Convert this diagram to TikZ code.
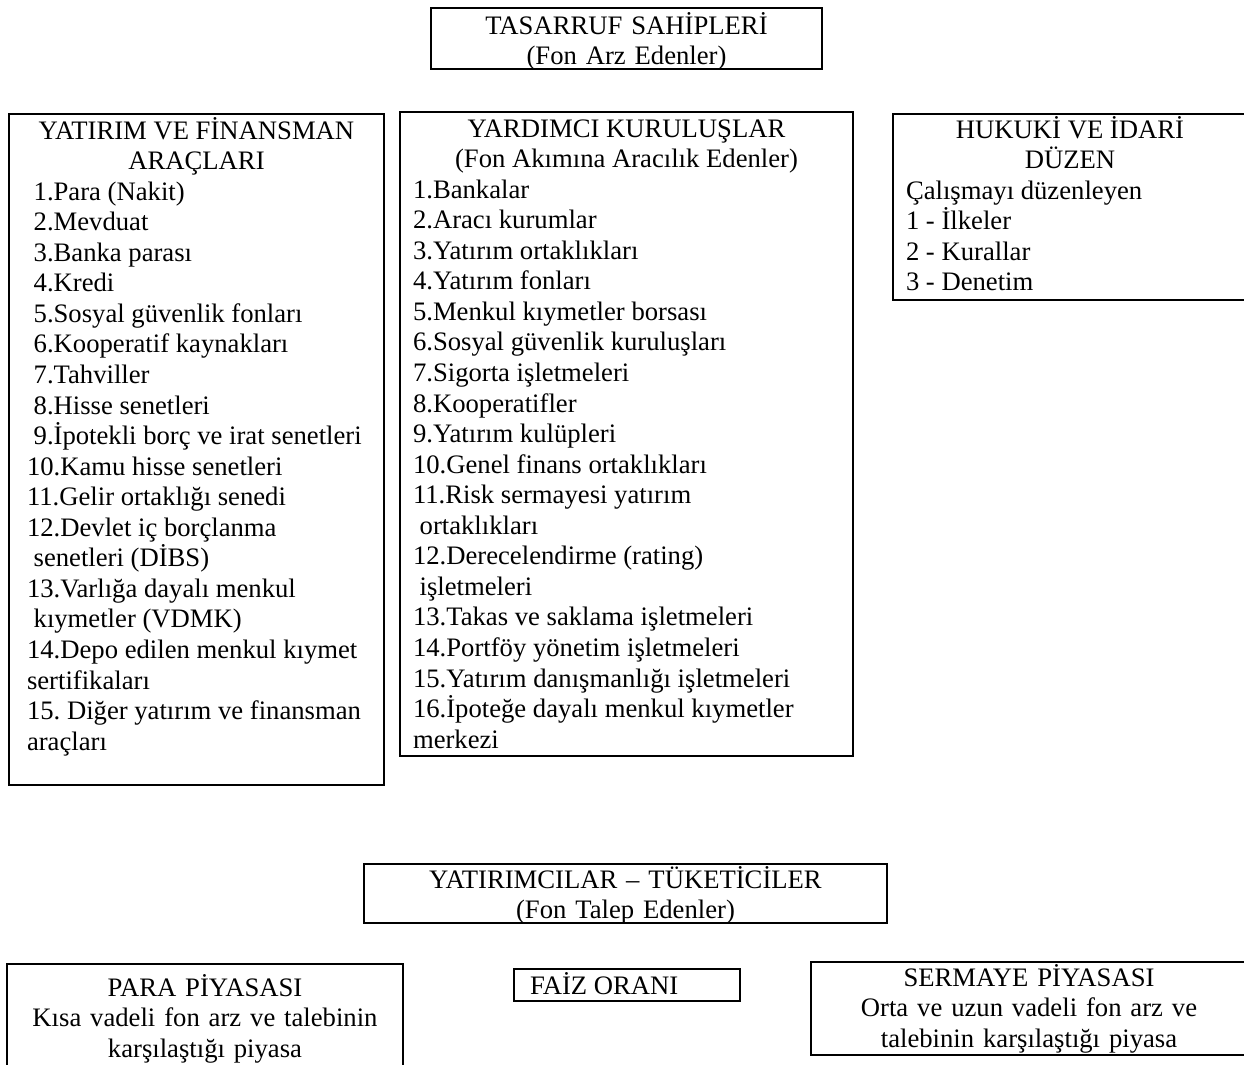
\documentclass[tikz,border=0pt]{standalone}
\usepackage{fontspec}
\setmainfont{Liberation Serif}
\usepackage{tikz}

\setlength{\parindent}{0pt}
\setlength{\parskip}{0pt}
\frenchspacing
\newcommand{\boxfont}{\fontsize{12}{13.75}\selectfont}
\tikzset{
    box/.style = {draw, line width=0.9pt, anchor=north west, inner ysep=0pt, inner xsep=5.85pt, font=\boxfont},
    listbox/.style = {box, align=flush left},
    titlebox/.style = {box, align=center}
}

\begin{document}
\begin{tikzpicture}[x=0.45pt, y=-0.45pt]
    \useasboundingbox (0,0) rectangle (1244,1064);
    \clip (0,0) rectangle (1244,1064);

    \node[titlebox, text width=164.25pt, text height=11.7pt, text depth=15.75pt] (sahipler) at (430,7)
        {TASARRUF SAHİPLERİ\\(Fon Arz Edenler)};

    \node[listbox, inner xsep=8.1pt, text width=152.55pt, text height=11.25pt, text depth=290.7pt] (araclar) at (8,113)
        {{\centering YATIRIM VE FİNANSMAN\\ARAÇLARI\par}
        ~1.Para (Nakit)\\
        ~2.Mevduat\\
        ~3.Banka parası\\
        ~4.Kredi\\
        ~5.Sosyal güvenlik fonları\\
        ~6.Kooperatif kaynakları\\
        ~7.Tahviller\\
        ~8.Hisse senetleri\\
        ~9.İpotekli borç ve irat senetleri\\
        10.Kamu hisse senetleri\\
        11.Gelir ortaklığı senedi\\
        12.Devlet iç borçlanma\\
        ~senetleri (DİBS)\\
        13.Varlığa dayalı menkul\\
        ~kıymetler (VDMK)\\
        14.Depo edilen menkul kıymet\\
        sertifikaları\\
        15. Diğer yatırım ve finansman\\
        araçları};

    \node[listbox, text width=192.15pt, text height=11.25pt, text depth=278.55pt] (kuruluslar) at (399,111)
        {{\centering YARDIMCI KURULUŞLAR\\(Fon Akımına Aracılık Edenler)\par}
        1.Bankalar\\
        2.Aracı kurumlar\\
        3.Yatırım ortaklıkları\\
        4.Yatırım fonları\\
        5.Menkul kıymetler borsası\\
        6.Sosyal güvenlik kuruluşları\\
        7.Sigorta işletmeleri\\
        8.Kooperatifler\\
        9.Yatırım kulüpleri\\
        10.Genel finans ortaklıkları\\
        11.Risk sermayesi yatırım\\
        ~ortaklıkları\\
        12.Derecelendirme (rating)\\
        ~işletmeleri\\
        13.Takas ve saklama işletmeleri\\
        14.Portföy yönetim işletmeleri\\
        15.Yatırım danışmanlığı işletmeleri\\
        16.İpoteğe dayalı menkul kıymetler\\
        merkezi};

    \node[listbox, text width=147.6pt, text height=10.8pt, text depth=72.9pt] (duzen) at (892,113)
        {{\centering HUKUKİ VE İDARİ\\DÜZEN\par}
        Çalışmayı düzenleyen\\
        1 - İlkeler\\
        2 - Kurallar\\
        3 - Denetim};

    \node[titlebox, text width=223.65pt, text height=10.8pt, text depth=15.75pt] (talep) at (363,863)
        {YATIRIMCILAR – TÜKETİCİLER\\(Fon Talep Edenler)};

    \node[titlebox, text width=166.5pt, text height=14.4pt, text depth=36pt] (para) at (6,963)
        {PARA PİYASASI\\Kısa vadeli fon arz ve talebinin\\karşılaştığı piyasa};

    \node[listbox, inner xsep=7.2pt, text width=87.3pt, text height=11.25pt, text depth=3.15pt] (faiz) at (513,968)
        {FAİZ ORANI};

    \node[titlebox, text width=184.5pt, text height=10.8pt, text depth=31.05pt] (sermaye) at (810,961)
        {SERMAYE PİYASASI\\Orta ve uzun vadeli fon arz ve\\talebinin karşılaştığı piyasa};
\end{tikzpicture}
\end{document}
